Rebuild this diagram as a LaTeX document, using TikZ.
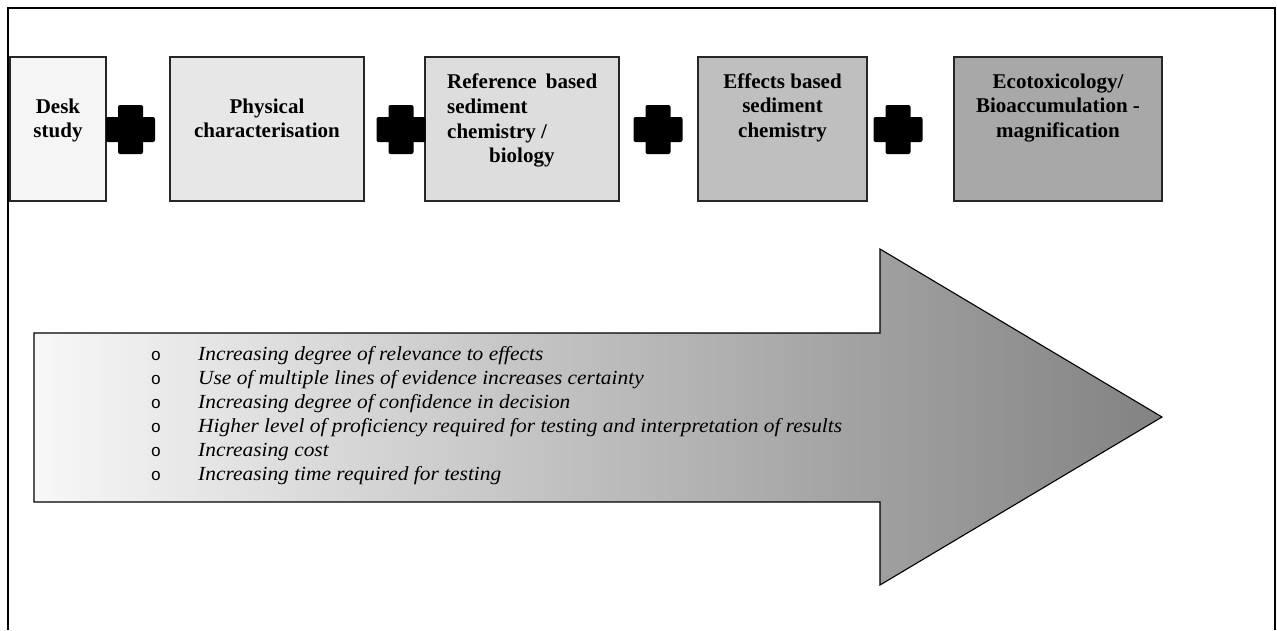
\documentclass[tikz,border=0pt]{standalone}
\usepackage{fontspec}
\setmainfont{Liberation Serif}
\setmonofont{Liberation Mono}
\usepackage{tikz}
\usetikzlibrary{positioning}

\tikzset{
  stagebox/.style={draw=black!85, line width=1.2pt, rectangle, minimum height=144pt, inner sep=0pt},
  stagetext/.style={anchor=north, inner sep=0pt, align=center, font=\fontsize{21}{24.6}\selectfont\bfseries},
  plussign/.style={fill=black, rounded corners=2pt},
  bigarrow/.style={draw=black, line width=1.1pt, shading=axis, left color=gray!6, right color=gray!98},
  pointlist/.style={anchor=north west, inner sep=0pt, align=left,
    font=\fontsize{20}{24}\selectfont\itshape\addfontfeatures{FakeStretch=1.07}}
}
\newcommand{\listmark}{\makebox[47.4pt][l]{\upshape\ttfamily\fontsize{17}{24}\selectfont o}}

\begin{document}
\begin{tikzpicture}[x=1pt, y=-1pt]
\useasboundingbox (0,0) rectangle (1277,630);
% page frame, open at the bottom
\draw[line width=1.5pt] (8,630) -- (8,8) -- (1275,8) -- (1275,630);

% stages
\node[stagebox, fill=gray!8, minimum width=96pt] (desk) at (58,129) {};
\node[stagebox, fill=gray!19, minimum width=194pt] (phys) at (267,129) {};
\node[stagebox, fill=gray!27, minimum width=194pt] (refchem) at (522,129) {};
\node[stagebox, fill=gray!50, minimum width=169pt] (effchem) at (782.5,129) {};
\node[stagebox, fill=gray!68, minimum width=208pt] (ecotox) at (1058,129) {};

\node[stagetext, below=42pt of desk.north] (desklabel) {Desk\\study};
\node[stagetext, below=42pt of phys.north] (physlabel) {Physical\\characterisation};
\node[stagetext, anchor=north west, align=left] (reflabel) at (447,74)
  {\makebox[150pt][s]{Reference\ \ based}\\sediment\\chemistry /\\\hspace*{42pt}biology};
\node[stagetext, below=17pt of effchem.north] (efflabel) {Effects based\\sediment\\chemistry};
\node[stagetext, below=17pt of ecotox.north] (ecolabel) {Ecotoxicology/\\Bioaccumulation -\\magnification};

% plus signs between the stages
\foreach \cx in {130.5,401,658,898}{
  \fill[plussign] (\cx-12.5,105) rectangle (\cx+12.5,154);
  \fill[plussign] (\cx-24.5,117) rectangle (\cx+24.5,142);
}

% increasing arrow
\draw[bigarrow] (34,333) -- (880,333) -- (880,249) -- (1162,417)
  -- (880,585) -- (880,502) -- (34,502) -- cycle;

\node[pointlist] (points) at (150.6,346)
  {\listmark Increasing degree of relevance to effects\\
   \listmark Use of multiple lines of evidence increases certainty\\
   \listmark Increasing degree of confidence in decision\\
   \listmark Higher level of proficiency required for testing and interpretation of results\\
   \listmark Increasing cost\\
   \listmark Increasing time required for testing};
\end{tikzpicture}
\end{document}
